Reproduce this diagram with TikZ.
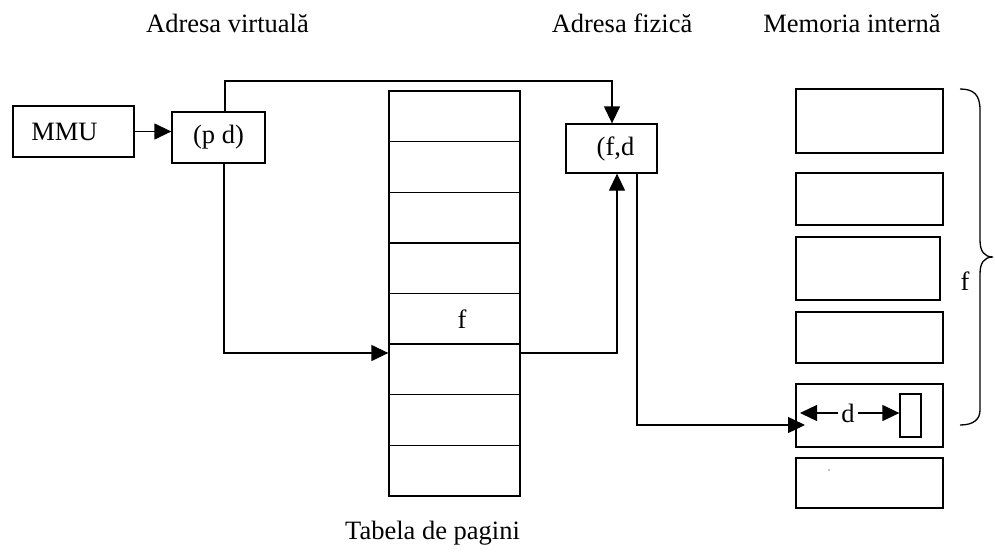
\documentclass[tikz,border=0pt]{standalone}
\usepackage{fontspec}
\setmainfont{Liberation Serif}
\usetikzlibrary{arrows.meta,calc}
\begin{document}
\begin{tikzpicture}[x=1pt,y=-1pt,
  font=\fontsize{26.5}{30}\selectfont,
  bx/.style={draw,line width=1.3pt,inner sep=0pt},
  ln/.style={line width=1.3pt},
  arr/.style={-{Triangle[length=17pt,width=16pt]}},
  lbl/.style={anchor=base,inner sep=0pt}]
\useasboundingbox (0,0) rectangle (995,554);
% top labels
\node[lbl] (lv) at (227.5,32) {Adresa virtuală};
\node[lbl] (lf) at (622,32) {Adresa fizică};
\node[lbl] (lm) at (852,32) {Memoria internă};
\node[lbl] (lt) at (432.5,539) {Tabela de pagini};
% boxes
\node[bx,minimum width=121pt,minimum height=51pt] (mmu) at (73.5,131.5) {MMU\rule{18pt}{0pt}};
\node[bx,minimum width=93pt,minimum height=51pt] (pd) at (218.5,137.5) {(p d)};
\node[bx,minimum width=91pt,minimum height=49pt] (fd) at (611.5,148.5) {\hspace{8pt}(f,d};
% page table
\foreach \i in {1,...,8}
  \node[bx,minimum width=131pt,minimum height=50.625pt] (r\i) at (454.5,{91+(\i-0.5)*50.625}) {};
\node (ftab) at ($(r5.center)+(7.5,0)$) {f};
% memory
\node[bx,minimum width=147pt,minimum height=64pt] (m1) at (869.5,121) {};
\node[bx,minimum width=147pt,minimum height=52pt] (m2) at (869.5,199) {};
\node[bx,minimum width=144pt,minimum height=63pt] (m3) at (868,268.5) {};
\node[bx,minimum width=147pt,minimum height=51pt] (m4) at (869.5,337.5) {};
\node[bx,minimum width=147pt,minimum height=63pt] (m5) at (869.5,415.5) {};
\node[bx,minimum width=147pt,minimum height=50pt] (m6) at (869.5,483) {};
\node[bx,minimum width=21pt,minimum height=43pt] (s) at (910.5,415.5) {};
\node[inner sep=3pt] (d) at (848,413) {d};
\fill (829,470) circle (0.7pt);
% connectors
\draw[ln,arr] (mmu.east) -- (mmu.east -| pd.west);
\coordinate (t1) at (225,81);
\coordinate (t2) at (612,81);
\draw[ln,arr] (pd.north -| t1) -- (t1) -- (t2) -- (fd.north -| t2);
\coordinate (b1) at (224,353);
\draw[ln,arr] (pd.south -| b1) -- (b1) -- (b1 -| r6.west);
\coordinate (b2) at (617,353);
\draw[ln,arr] (b1 -| r6.east) -- (b2) -- (fd.south -| b2);
\coordinate (c1) at (637,425);
\coordinate (c2) at (805,425);
\draw[ln,arr] (fd.south -| c1) -- (c1) -- (c2);
\coordinate (dl) at (800,413);
\draw[ln,arr] (d.west) -- (dl);
\draw[ln,arr] (d.east) -- (d.east -| s.west);
% brace
\draw[ln] (960,89) .. controls (974,89) and (980,95) .. (980,110) -- (980,240)
  .. controls (980,251) and (984,257) .. (993,257)
  .. controls (984,257) and (980,263) .. (980,274) -- (980,410)
  .. controls (980,419) and (974,425) .. (960,425);
\node (fb) at (965,281) {f};
\end{tikzpicture}
\end{document}
